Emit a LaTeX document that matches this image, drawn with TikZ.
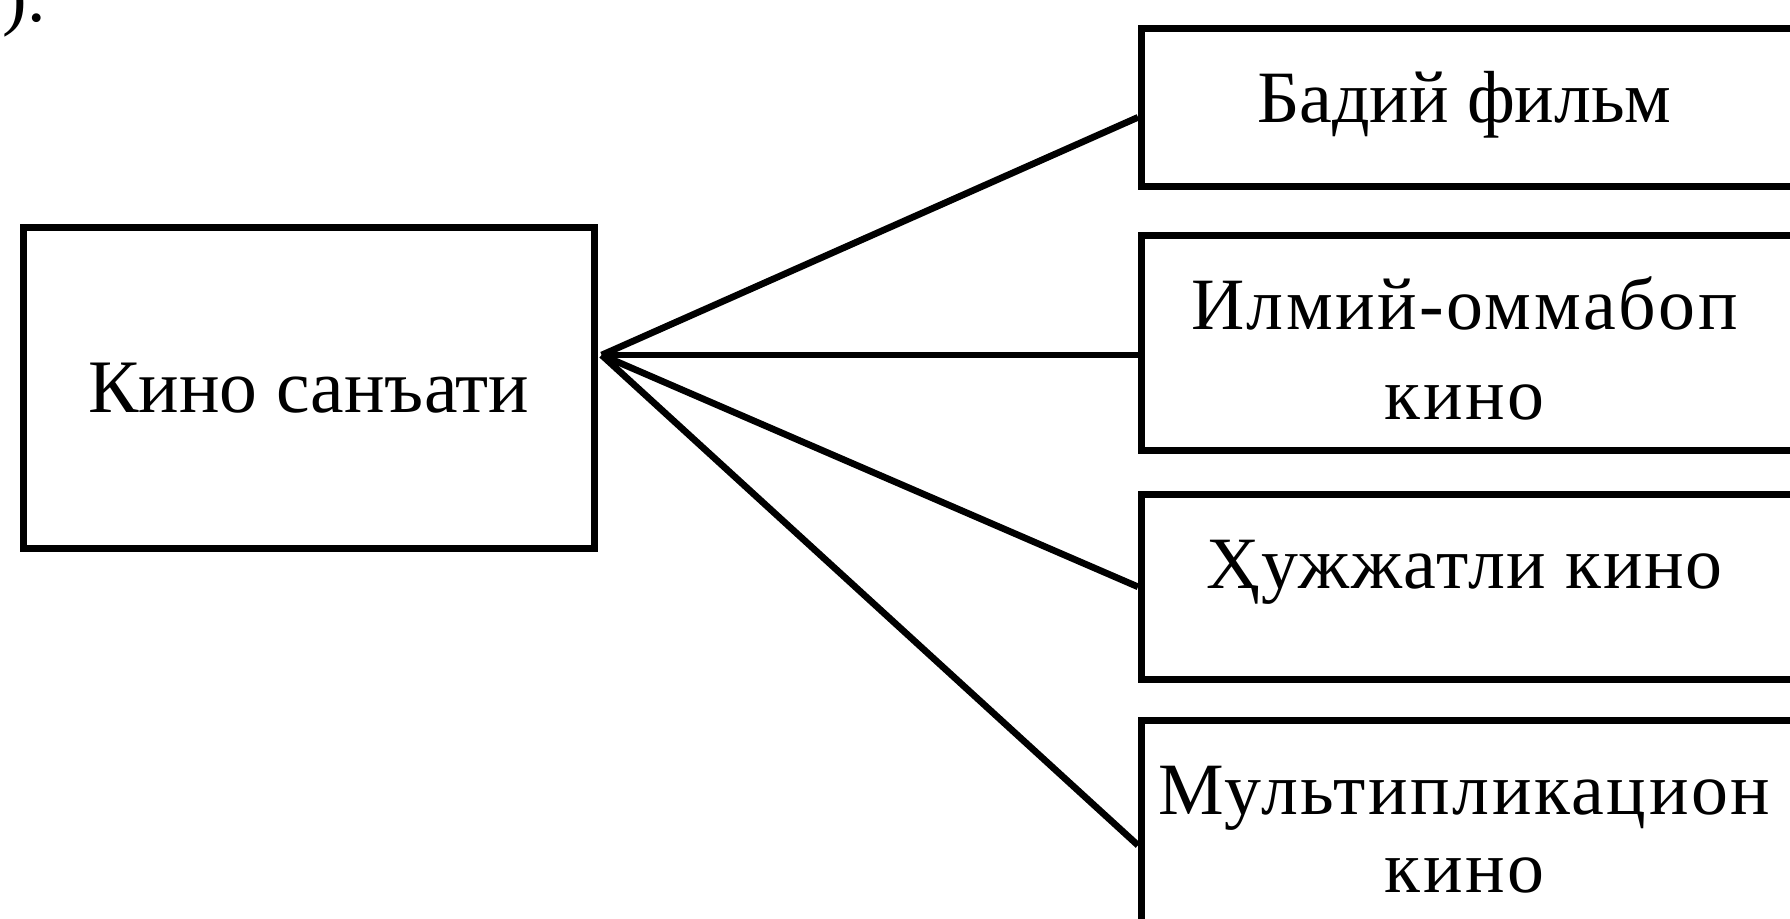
\documentclass[tikz,border=0pt]{standalone}
\usepackage{fontspec}
\setmainfont{Liberation Serif}
\usetikzlibrary{positioning,calc}

\begin{document}
\begin{tikzpicture}[x=1cm,y=1cm,
  box/.style={draw=black,line width=1.9pt,inner sep=0pt,anchor=north west},
  lab/.style={font=\fontsize{21}{23.5}\selectfont,align=center,inner sep=0pt},
  kind/.style={lab,xshift=-0.08cm},
  wide/.style={font=\fontsize{21}{23.5}\selectfont\addfontfeature{LetterSpace=3.5}},
  loose/.style={font=\fontsize{21}{23.5}\selectfont\addfontfeature{LetterSpace=2}},
  head/.style={font=\fontsize{21.5}{25}\selectfont},
  link/.style={draw=black,line width=1.9pt}]
\useasboundingbox (0,0) rectangle (17.90,-9.19);
\clip (0,0) rectangle (17.90,-9.19);
% tail of the sentence above the scheme
\node[lab,anchor=base west] (mark) at (0.02,-0.22) {).};
% root box
\node[box,head,minimum width=5.71cm,minimum height=3.21cm] (kino) at (0.20,-2.24) {Кино санъати};
% kinds of films
\node[box,minimum width=6.62cm,minimum height=1.58cm] (film) at (11.38,-0.25) {};
\node[kind,below=0.39cm of film.north] (filmtxt) {\strut Бадий фильм};
\node[box,minimum width=6.62cm,minimum height=2.15cm] (popular) at (11.38,-2.32) {};
\node[kind,wide,below=0.39cm of popular.north] (populartxt) {\strut Илмий-оммабоп\\[2pt]кино};
\node[box,minimum width=6.62cm,minimum height=1.85cm] (docu) at (11.38,-4.91) {};
\node[kind,loose,below=0.39cm of docu.north] (docutxt) {\strut Ҳужжатли кино};
\node[box,minimum width=6.62cm,minimum height=2.50cm] (anim) at (11.38,-7.17) {};
\node[kind,wide,below=0.39cm of anim.north] (animtxt) {\strut Мультипликацион\\[-1.3pt]кино};
% connectors
\coordinate (hub) at ($(kino.north east)!0.40!(kino.south east)+(0.04,0)$);
\draw[link] (hub) -- ([yshift=-0.10cm]film.west);
\draw[link] (hub) -- (hub -| popular.west);
\draw[link] (hub) -- (docu.west);
\draw[link] (hub) -- (anim.west);
\end{tikzpicture}
\end{document}
